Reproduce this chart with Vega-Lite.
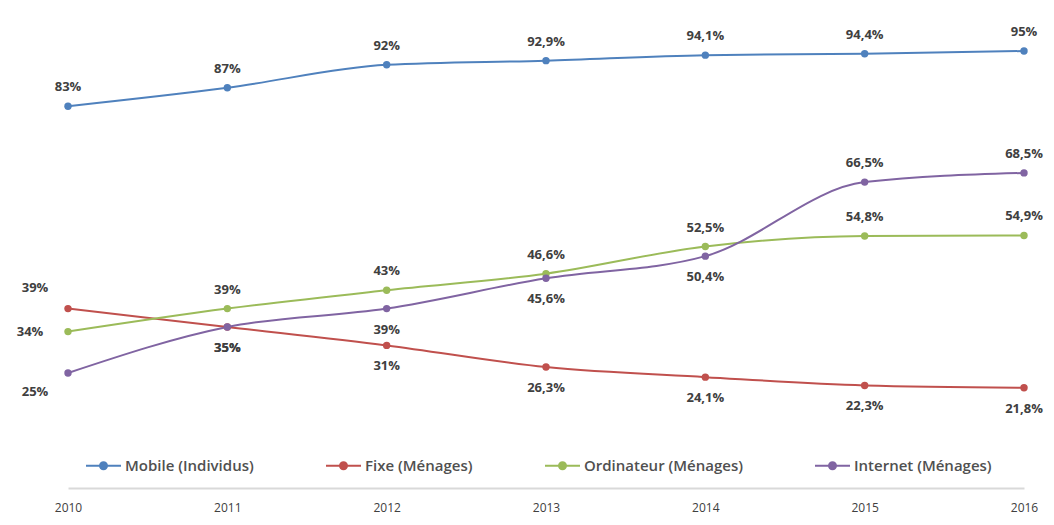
{
  "$schema": "https://vega.github.io/schema/vega-lite/v6.json",
  "width": 956,
  "height": 460,
  "autosize": "none",
  "padding": {"left": 68, "top": 28, "right": 30, "bottom": 37},
  "background": "white",
  "config": {"view": {"stroke": null}, "font": "Open Sans"},
  "data": {
    "values": [
      {"year": "2010", "series": "Mobile (Individus)", "value": 83},
      {"year": "2011", "series": "Mobile (Individus)", "value": 87},
      {"year": "2012", "series": "Mobile (Individus)", "value": 92},
      {"year": "2013", "series": "Mobile (Individus)", "value": 92.9},
      {"year": "2014", "series": "Mobile (Individus)", "value": 94.1},
      {"year": "2015", "series": "Mobile (Individus)", "value": 94.4},
      {"year": "2016", "series": "Mobile (Individus)", "value": 95},
      {"year": "2010", "series": "Fixe (Ménages)", "value": 39},
      {"year": "2011", "series": "Fixe (Ménages)", "value": 35},
      {"year": "2012", "series": "Fixe (Ménages)", "value": 31},
      {"year": "2013", "series": "Fixe (Ménages)", "value": 26.3},
      {"year": "2014", "series": "Fixe (Ménages)", "value": 24.1},
      {"year": "2015", "series": "Fixe (Ménages)", "value": 22.3},
      {"year": "2016", "series": "Fixe (Ménages)", "value": 21.8},
      {"year": "2010", "series": "Ordinateur (Ménages)", "value": 34},
      {"year": "2011", "series": "Ordinateur (Ménages)", "value": 39},
      {"year": "2012", "series": "Ordinateur (Ménages)", "value": 43},
      {"year": "2013", "series": "Ordinateur (Ménages)", "value": 46.6},
      {"year": "2014", "series": "Ordinateur (Ménages)", "value": 52.5},
      {"year": "2015", "series": "Ordinateur (Ménages)", "value": 54.8},
      {"year": "2016", "series": "Ordinateur (Ménages)", "value": 54.9},
      {"year": "2010", "series": "Internet (Ménages)", "value": 25},
      {"year": "2011", "series": "Internet (Ménages)", "value": 35},
      {"year": "2012", "series": "Internet (Ménages)", "value": 39},
      {"year": "2013", "series": "Internet (Ménages)", "value": 45.6},
      {"year": "2014", "series": "Internet (Ménages)", "value": 50.4},
      {"year": "2015", "series": "Internet (Ménages)", "value": 66.5},
      {"year": "2016", "series": "Internet (Ménages)", "value": 68.5}
    ]
  },
  "transform": [
    {"calculate": "replace(toString(datum.value), '.', ',') + '%'", "as": "label"}
  ],
  "encoding": {
    "x": {
      "field": "year", "type": "ordinal",
      "scale": {"type": "point", "padding": 0},
      "axis": {
        "title": null, "labelAngle": 0, "ticks": false, "domainColor": "#d9d9d9", "domainWidth": 2,
        "labelFont": "Open Sans", "labelFontSize": 12, "labelColor": "#404040", "labelPadding": 14
      }
    },
    "y": {
      "field": "value", "type": "quantitative",
      "scale": {"domain": [0, 100], "nice": false, "zero": true},
      "axis": null
    }
  },
  "layer": [
    {
      "mark": {"type": "line", "interpolate": "monotone", "strokeWidth": 2},
      "encoding": {
        "color": {
          "field": "series", "type": "nominal",
          "sort": ["Mobile (Individus)", "Fixe (Ménages)", "Ordinateur (Ménages)", "Internet (Ménages)"],
          "scale": {
            "domain": ["Mobile (Individus)", "Fixe (Ménages)", "Ordinateur (Ménages)", "Internet (Ménages)"],
            "range": ["#4f81bd", "#c0504d", "#9bbb59", "#8064a2"]
          },
          "legend": {
            "title": null, "orient": "none", "legendX": 17, "legendY": 419,
            "direction": "horizontal", "columns": 4, "columnPadding": 68,
            "symbolType": "M-1,0H1M-0.2,0a0.2,0.2 0 1,0 0.4,0a0.2,0.2 0 1,0 -0.4,0",
            "symbolSize": 1225, "symbolStrokeWidth": 2,
            "labelFont": "Open Sans", "labelFontSize": 15, "labelFontWeight": 600, "labelColor": "#505050", "labelOffset": 3,
            "encode": {"symbols": {"update": {"fill": {"scale": "color", "field": "value"}, "stroke": {"scale": "color", "field": "value"}}}}
          }
        }
      }
    },
    {
      "mark": {"type": "circle", "size": 55, "opacity": 1},
      "encoding": {"color": {"field": "series", "type": "nominal", "legend": null}}
    },
    {
      "transform": [{"filter": "datum.series == 'Mobile (Individus)' || (datum.series == 'Ordinateur (Ménages)' && datum.year != '2010') || (datum.series == 'Internet (Ménages)' && (datum.year == '2015' || datum.year == '2016'))"}],
      "mark": {"type": "text", "dy": -19, "fontWeight": "bold", "fontSize": 13, "color": "#404040", "baseline": "middle"},
      "encoding": {"text": {"field": "label"}}
    },
    {
      "transform": [{"filter": "datum.year != '2010' && (datum.series == 'Fixe (Ménages)' || (datum.series == 'Internet (Ménages)' && datum.year != '2015' && datum.year != '2016'))"}],
      "mark": {"type": "text", "dy": 21, "fontWeight": "bold", "fontSize": 13, "color": "#404040", "baseline": "middle"},
      "encoding": {"text": {"field": "label"}}
    },
    {
      "transform": [{"filter": "datum.year == '2010' && datum.series == 'Fixe (Ménages)'"}],
      "mark": {"type": "text", "dx": -33, "dy": -21, "fontWeight": "bold", "fontSize": 13, "color": "#404040", "baseline": "middle"},
      "encoding": {"text": {"field": "label"}}
    },
    {
      "transform": [{"filter": "datum.year == '2010' && datum.series == 'Ordinateur (Ménages)'"}],
      "mark": {"type": "text", "dx": -38, "dy": 0, "fontWeight": "bold", "fontSize": 13, "color": "#404040", "baseline": "middle"},
      "encoding": {"text": {"field": "label"}}
    },
    {
      "transform": [{"filter": "datum.year == '2010' && datum.series == 'Internet (Ménages)'"}],
      "mark": {"type": "text", "dx": -33, "dy": 19, "fontWeight": "bold", "fontSize": 13, "color": "#404040", "baseline": "middle"},
      "encoding": {"text": {"field": "label"}}
    }
  ]
}
